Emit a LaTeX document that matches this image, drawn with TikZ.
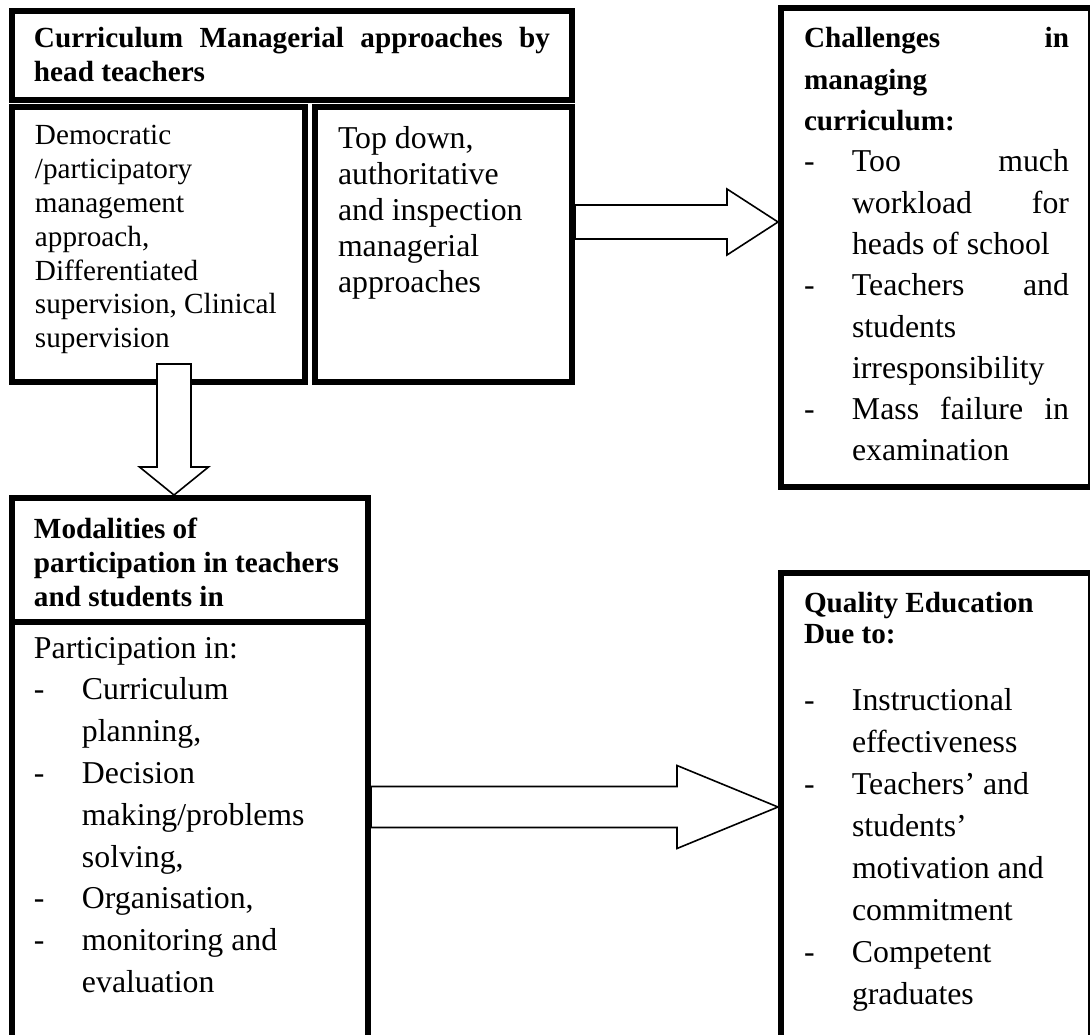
\documentclass[tikz,border=0pt]{standalone}
\usepackage{fontspec}
\setmainfont{Liberation Serif}
\usetikzlibrary{positioning,calc}
\newcommand{\itemdash}[1]{\makebox[#1][l]{-}}
\newcommand{\itemgap}[1]{\hspace*{#1}}
% left skip, right skip, first baseline, font size, baselineskip
\newcommand{\setpar}[5]{\fontsize{#4}{#5}\selectfont\leftskip=#1\rightskip=#2 plus 1fil\rule{0pt}{#3}}
\newcommand{\fatdown}[5]{%
  \draw[fatarrow] let \p1=(#1), \p2=(#2) in
    (\x1-#3,\y1) -- (\x1-#3,\y2+#5) -- (\x1-#4,\y2+#5) -- (\p2)
    -- (\x1+#4,\y2+#5) -- (\x1+#3,\y2+#5) -- (\x1+#3,\y1) -- cycle;}
\newcommand{\fatright}[5]{%
  \draw[fatarrow] let \p1=(#1), \p2=(#2) in
    (\x1,\y1+#3) -- (\x2-#5,\y1+#3) -- (\x2-#5,\y1+#4) -- (\p2)
    -- (\x2-#5,\y1-#4) -- (\x2-#5,\y1-#3) -- (\x1,\y1-#3) -- cycle;}

\begin{document}
\begin{tikzpicture}[
                    x=1pt, y=1pt,
                    box/.style={
                        rectangle,
                        draw=black,
                        line width=6pt,
                        inner sep=0pt,
                        fill=white
                    },
                    fatarrow/.style={
                        draw=black,
                        line width=1.6pt,
                        fill=white,
                        line join=miter
                    }
                ]
                \useasboundingbox (0,0) rectangle (1090,-1035);
                \newcommand{\mkbox}[6]{
                    \node (#1) [box,#6] {\parbox[t][#3][t]{#2}{#4#5}};
                }
                % approaches
                \mkbox{head}{560pt}{89pt}{\setpar{22pt}{22pt}{37pt}{29.2}{34}\bfseries}
                    {Curriculum \hfill Managerial \hfill approaches \hfill by\\ head teachers}
                    {anchor=north west, at={(9,-8)}}
                \mkbox{demo}{293pt}{275pt}{\setpar{23pt}{0pt}{38pt}{29.2}{33.8}}
                    {Democratic\\ /participatory\\ management\\ approach,\\ Differentiated\\ supervision, Clinical\\ supervision}
                    {below=1pt of head.south west, anchor=north west}
                \mkbox{topd}{257pt}{275pt}{\setpar{23pt}{0pt}{42pt}{31.8}{35.8}}
                    {Top down,\\ authoritative\\ and inspection\\ managerial\\ approaches}
                    {right=4pt of demo.north east, anchor=north west}

                % challenges
                \mkbox{chal}{310pt}{479pt}{\setpar{23pt}{22pt}{40pt}{29.2}{41.3}\bfseries}
                    {Challenges \hfill in\\ managing\\ curriculum:\\
                     \fontsize{31.8}{41.3}\mdseries
                     \itemdash{48pt}Too \hfill much\\
                     \itemgap{48pt}workload \hfill for\\
                     \itemgap{48pt}heads of school\\
                     \itemdash{48pt}Teachers \hfill and\\
                     \itemgap{48pt}students\\
                     \itemgap{48pt}irresponsibility\\
                     \itemdash{48pt}Mass \hfill failure \hfill in\\
                     \itemgap{48pt}examination}
                    {anchor=north west, at={(778,-5)}}

                % modalities
                \mkbox{modh}{356pt}{123.5pt}{\setpar{22pt}{0pt}{40pt}{29.2}{34}\bfseries}
                    {Modalities of\\ participation in teachers\\ and students in}
                    {below=110pt of demo.south west, anchor=north west}
                \mkbox{modb}{356pt}{428.5pt}{\setpar{22pt}{0pt}{36.5pt}{31.8}{41.8}}
                    {Participation in:\\
                     \itemdash{48pt}Curriculum\\
                     \itemgap{48pt}planning,\\
                     \itemdash{48pt}Decision\\
                     \itemgap{48pt}making/problems\\
                     \itemgap{48pt}solving,\\
                     \itemdash{48pt}Organisation,\\
                     \itemdash{48pt}monitoring and\\
                     \itemgap{48pt}evaluation}
                    {below=-6pt of modh.south west, anchor=north west}

                % quality
                \mkbox{qual}{310pt}{477pt}{\setpar{23pt}{22pt}{39pt}{29.2}{31}\bfseries}
                    {Quality Education\\ Due to:\par
                     \vspace{25pt}\fontsize{31.8}{42}\selectfont\mdseries
                     \itemdash{48pt}Instructional\\
                     \itemgap{48pt}effectiveness\\
                     \itemdash{48pt}Teachers' and\\
                     \itemgap{48pt}students'\\
                     \itemgap{48pt}motivation and\\
                     \itemgap{48pt}commitment\\
                     \itemdash{48pt}Competent\\
                     \itemgap{48pt}graduates}
                    {below=80pt of chal.south west, anchor=north west}

                \coordinate (dtop) at ([xshift=165pt,yshift=21pt]demo.south west);
                \coordinate (dtip) at (dtop |- modh.north);
                \coordinate (r1s) at ([yshift=22.5pt]topd.east);
                \coordinate (r1e) at (r1s -| chal.west);
                \coordinate (r2s) at ([yshift=28.75pt]modb.east);
                \coordinate (r2e) at (r2s -| qual.west);

                \fatdown{dtop}{dtip}{17pt}{34.5pt}{28pt}
                \fatright{r1s}{r1e}{17pt}{33pt}{51pt}
                \fatright{r2s}{r2e}{20.5pt}{41.5pt}{101pt}
            \end{tikzpicture}
\end{document}
